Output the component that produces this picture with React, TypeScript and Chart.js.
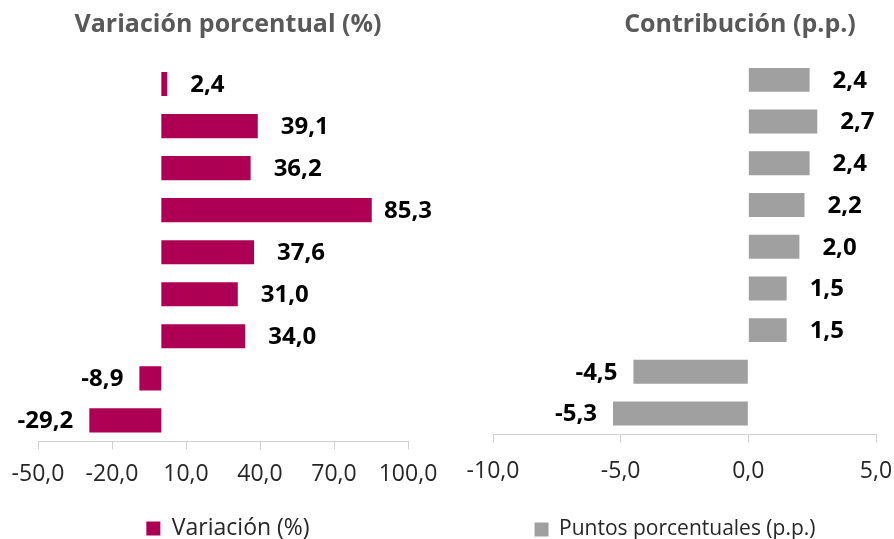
import React, { useEffect, useRef } from "react";
import { Chart, registerables } from "chart.js";

Chart.register(...registerables);

// ---- Data ----
const categories = ["C1", "C2", "C3", "C4", "C5", "C6", "C7", "C8", "C9"];
const variacion = [2.4, 39.1, 36.2, 85.3, 37.6, 31.0, 34.0, -8.9, -29.2];
const contribucion = [2.4, 2.7, 2.4, 2.2, 2.0, 1.5, 1.5, -4.5, -5.3];

const leftTitle = "Variación porcentual (%)";
const rightTitle = "Contribución (p.p.)";
const leftLegend = "Variación (%)";
const rightLegend = "Puntos porcentuales (p.p.)";

const leftTicks = { min: -50, max: 100, step: 30 };
const rightTicks = { min: -10, max: 5, step: 5 };

const MAGENTA = "#AD0055";
const GRAY = "#A0A0A0";
const FONT = "'Open Sans', sans-serif";

const fmt = (v: number) => v.toFixed(1).replace(".", ",");

const barValueLabels = {
  id: "barValueLabels",
  afterDatasetsDraw(chart: any, _args: any, opts: any) {
    const { ctx, chartArea } = chart;
    const meta = chart.getDatasetMeta(0);
    const data = chart.data.datasets[0].data as number[];
    ctx.save();
    ctx.font = `bold ${opts.size}px ${FONT}`;
    ctx.fillStyle = opts.color;
    ctx.textBaseline = "middle";
    meta.data.forEach((el: any, i: number) => {
      const v = data[i];
      const text = fmt(v);
      const w = ctx.measureText(text).width;
      if (v >= 0) {
        let x = el.x + opts.gapPos;
        const limit = chartArea.right + opts.overflow;
        if (x + w > limit) x = limit - w;
        ctx.textAlign = "left";
        ctx.fillText(text, x, el.y + opts.dy);
      } else {
        ctx.textAlign = "right";
        ctx.fillText(text, el.x - opts.gapNeg, el.y + opts.dy);
      }
    });
    ctx.restore();
  },
};

const panelTitle = {
  id: "panelTitle",
  afterDraw(chart: any, _args: any, opts: any) {
    const { ctx } = chart;
    ctx.save();
    ctx.font = `bold ${opts.size}px ${FONT}`;
    ctx.fillStyle = opts.color;
    ctx.textAlign = "center";
    ctx.textBaseline = "middle";
    ctx.fillText(opts.text, opts.x, opts.y);
    ctx.restore();
  },
};

function makeConfig(p: {
  data: number[];
  color: string;
  label: string;
  title: string;
  titleX: number;
  ticks: { min: number; max: number; step: number };
  padding: { left: number; right: number; top: number; bottom: number };
  tickPadding: number;
  legendPadding: number;
  legendSize: number;
  yPosition: "left" | "right";
  yWidth: number;
}): any {
  return {
    type: "bar",
    data: {
      labels: categories,
      datasets: [
        {
          label: p.label,
          data: p.data,
          backgroundColor: p.color,
          borderWidth: 0,
          categoryPercentage: 1,
          barPercentage: 0.574,
        },
      ],
    },
    options: {
      indexAxis: "y",
      responsive: false,
      animation: false,
      events: [],
      layout: { padding: p.padding },
      scales: {
        y: {
          type: "category",
          display: true,
          position: p.yPosition,
          grid: { display: false },
          border: { display: false },
          ticks: { display: false },
          afterFit: (scale: any) => {
            scale.width = p.yWidth;
          },
        },
        x: {
          type: "linear",
          min: p.ticks.min,
          max: p.ticks.max,
          grid: {
            display: true,
            drawOnChartArea: false,
            drawTicks: true,
            tickLength: 8,
            color: "#D0D0D0",
          },
          border: { display: true, color: "#D0D0D0", width: 1 },
          ticks: {
            stepSize: p.ticks.step,
            autoSkip: false,
            maxRotation: 0,
            padding: p.tickPadding,
            color: "#262626",
            font: { family: FONT, size: 23 },
            callback: (v: any) => fmt(Number(v)),
          },
        },
      },
      plugins: {
        title: { display: false },
        tooltip: { enabled: false },
        legend: {
          display: true,
          position: "bottom",
          labels: {
            boxWidth: 14,
            boxHeight: 14,
            padding: p.legendPadding,
            color: "#262626",
            font: { family: FONT, size: p.legendSize },
          },
        },
        barValueLabels: {
          size: 24,
          color: "#000000",
          gapPos: 23,
          gapNeg: 16,
          overflow: 24,
          dy: 1,
        },
        panelTitle: {
          text: p.title,
          x: p.titleX,
          y: 25,
          size: 25,
          color: "#595959",
        },
      },
    },
    plugins: [barValueLabels, panelTitle],
  };
}

export default function App() {
  const leftRef = useRef<HTMLCanvasElement>(null);
  const rightRef = useRef<HTMLCanvasElement>(null);

  useEffect(() => {
    const left = new Chart(
      leftRef.current as HTMLCanvasElement,
      makeConfig({
        data: variacion,
        color: MAGENTA,
        label: leftLegend,
        title: leftTitle,
        titleX: 232,
        ticks: leftTicks,
        padding: { left: 42, right: 35, top: 63, bottom: 0 },
        tickPadding: 11,
        legendPadding: 18,
        legendSize: 23,
        yPosition: "right",
        yWidth: 10,
      })
    );
    const right = new Chart(
      rightRef.current as HTMLCanvasElement,
      makeConfig({
        data: contribucion,
        color: GRAY,
        label: rightLegend,
        title: rightTitle,
        titleX: 293,
        ticks: rightTicks,
        padding: { left: 27, right: 40, top: 59, bottom: 0 },
        tickPadding: 15,
        legendPadding: 19,
        legendSize: 21,
        yPosition: "left",
        yWidth: 19,
      })
    );
    return () => {
      left.destroy();
      right.destroy();
    };
  }, []);

  return (
    <div
      style={{
        position: "absolute",
        left: 0,
        top: 0,
        width: 894,
        height: 539,
        overflow: "hidden",
        background: "#ffffff",
      }}
    >
      <canvas
        ref={leftRef}
        width={457}
        height={550}
        style={{ position: "absolute", left: -4, top: 0, width: 457, height: 550 }}
      />
      <canvas
        ref={rightRef}
        width={469}
        height={550}
        style={{ position: "absolute", left: 447, top: 0, width: 469, height: 550 }}
      />
    </div>
  );
}
